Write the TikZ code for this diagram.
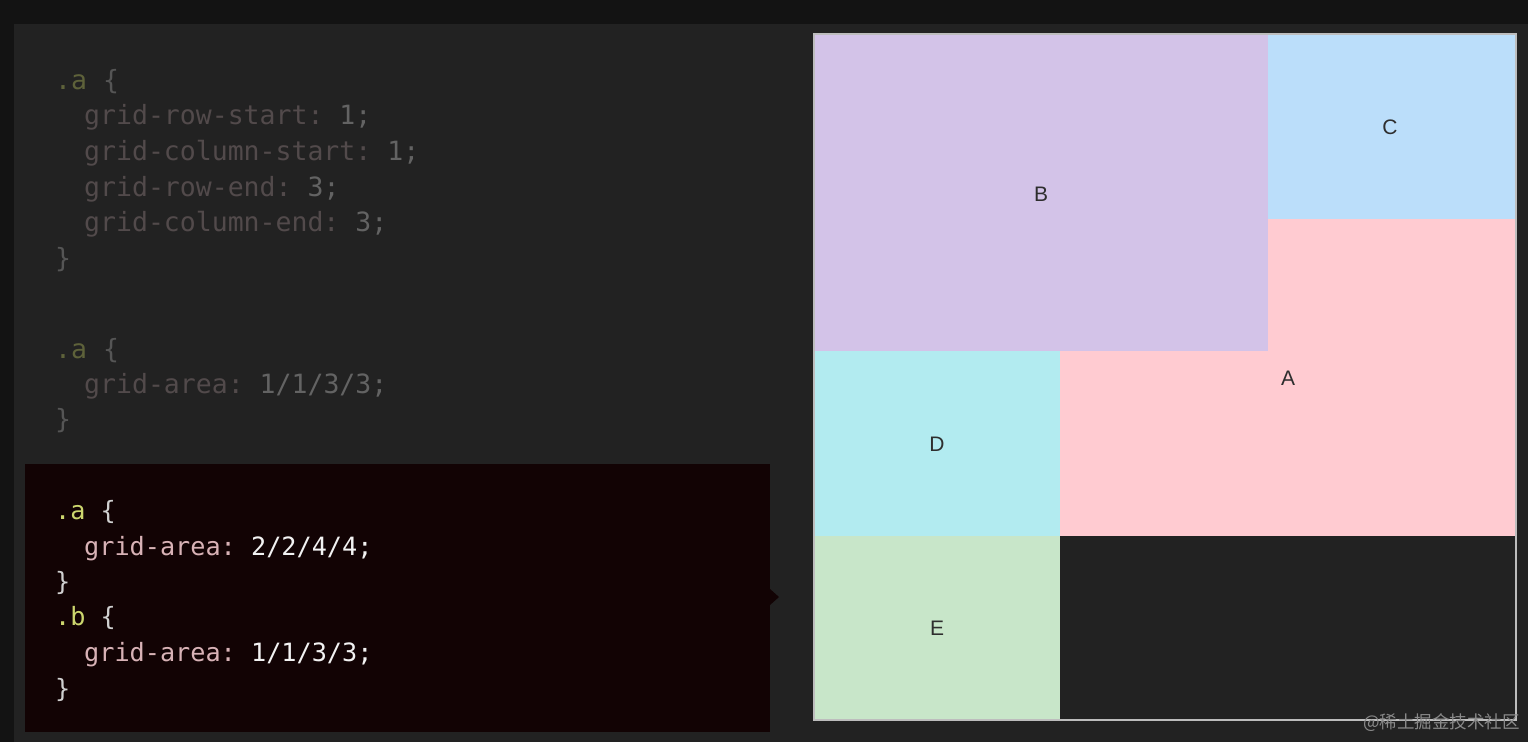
\documentclass[tikz,border=0pt]{standalone}
\usepackage{fontspec}
\setmainfont{Liberation Sans}
\setmonofont{DejaVu Sans Mono}
\newfontfamily\cjk{Noto Sans CJK SC}
\definecolor{outerbg}{HTML}{131313}
\definecolor{panelbg}{HTML}{222222}
\definecolor{boxbg}{HTML}{120304}
\definecolor{cellA}{HTML}{FFCBD1}
\definecolor{cellB}{HTML}{D3C3E8}
\definecolor{cellC}{HTML}{BBDEFA}
\definecolor{cellD}{HTML}{B2EBF0}
\definecolor{cellE}{HTML}{C8E6C9}
\definecolor{gridborder}{HTML}{BDBDBD}
\definecolor{dimsel}{HTML}{5E623A}
\definecolor{dimprop}{HTML}{524A4B}
\definecolor{dimval}{HTML}{636363}
\definecolor{dimbrace}{HTML}{555555}
\definecolor{hisel}{HTML}{CCD66E}
\definecolor{hiprop}{HTML}{D8B2B6}
\definecolor{hival}{HTML}{F2F2F2}
\definecolor{hibrace}{HTML}{D0D0D0}
\definecolor{labeltext}{HTML}{2E2E2E}
\definecolor{watermark}{HTML}{8A8A8A}
\begin{document}
\begin{tikzpicture}[x=1pt,y=-1pt,
  dimcode/.style={anchor=base west,inner sep=0pt,font=\ttfamily\fontsize{26.5}{30}\selectfont},
  hicode/.style={anchor=base west,inner sep=0pt,font=\ttfamily\fontsize{25.2}{30}\selectfont},
  celllabel/.style={font=\fontsize{21}{24}\selectfont,text=labeltext,inner sep=0pt}]
\useasboundingbox (0,0) rectangle (1528,742);
% backgrounds
\fill[outerbg] (0,0) rectangle (1528,742);
\fill[panelbg] (14,24) rectangle (1528,742);
% faded code
\node[dimcode] (l1) at (55,89) {\textcolor{dimsel}{.a} \textcolor{dimbrace}{\{}};
\node[dimcode] (l2) at (84,124) {\textcolor{dimprop}{grid-row-start:} \textcolor{dimval}{1;}};
\node[dimcode] (l3) at (84,160) {\textcolor{dimprop}{grid-column-start:} \textcolor{dimval}{1;}};
\node[dimcode] (l4) at (84,196) {\textcolor{dimprop}{grid-row-end:} \textcolor{dimval}{3;}};
\node[dimcode] (l5) at (84,231) {\textcolor{dimprop}{grid-column-end:} \textcolor{dimval}{3;}};
\node[dimcode] (l6) at (55,267) {\textcolor{dimbrace}{\}}};
\node[dimcode] (m1) at (55,358) {\textcolor{dimsel}{.a} \textcolor{dimbrace}{\{}};
\node[dimcode] (m2) at (84,393) {\textcolor{dimprop}{grid-area:} \textcolor{dimval}{1/1/3/3;}};
\node[dimcode] (m3) at (55,428) {\textcolor{dimbrace}{\}}};
% highlighted box
\fill[boxbg] (25,464) rectangle (770,732);
\fill[boxbg] (770,589) -- (779,597) -- (770,605) -- cycle;
\node[hicode] (h1) at (55,519) {\textcolor{hisel}{.a} \textcolor{hibrace}{\{}};
\node[hicode] (h2) at (84,555) {\textcolor{hiprop}{grid-area:} \textcolor{hival}{2/2/4/4;}};
\node[hicode] (h3) at (55,590) {\textcolor{hibrace}{\}}};
\node[hicode] (h4) at (55,625) {\textcolor{hisel}{.b} \textcolor{hibrace}{\{}};
\node[hicode] (h5) at (84,661) {\textcolor{hiprop}{grid-area:} \textcolor{hival}{1/1/3/3;}};
\node[hicode] (h6) at (55,697) {\textcolor{hibrace}{\}}};
% grid cells
\fill[cellA] (1060,219) rectangle (1516,536);
\fill[cellB] (814,34) rectangle (1268,351);
\fill[cellC] (1268,34) rectangle (1516,219);
\fill[cellD] (814,351) rectangle (1060,536);
\fill[cellE] (814,536) rectangle (1060,720);
\draw[gridborder,line width=2pt] (814,34) rectangle (1516,720);
\node[celllabel] (la) at (1288,378) {A};
\node[celllabel] (lb) at (1041,194) {B};
\node[celllabel] (lc) at (1390,127) {C};
\node[celllabel] (ld) at (937,444) {D};
\node[celllabel] (le) at (937,628) {E};
% watermark
\node[anchor=east,inner sep=0pt,text=watermark,font=\cjk\fontsize{17.5}{20}\selectfont] (wm) at (1520,723) {@稀土掘金技术社区};
\end{tikzpicture}
\end{document}
